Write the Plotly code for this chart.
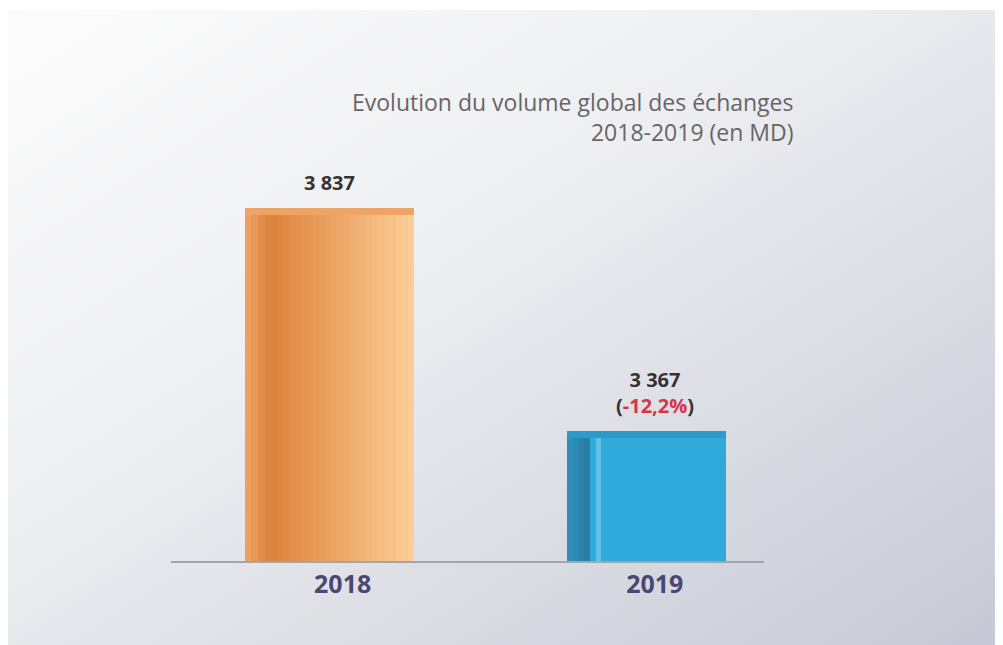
import base64
import plotly.graph_objects as go

# ---- data ----
years = ["2018", "2019"]
values = [3837, 3367]
value_labels = ["3 837", "3 367"]
change_labels = ["", "-12,2%"]
title_lines = ["Evolution du volume global des échanges", "2018-2019 (en MD)"]

# ---- style (page is offset by the 8px body margin) ----
OFF = 8
W, H = 1003 - OFF, 645 - OFF
L, R, B, T = 171 - OFF, 239, 84, 60 - OFF
Y0 = 3107.6                 # truncated axis start (as in reference)
PX_PER_UNIT = 0.4744
Y1 = Y0 + (H - T - B) / PX_PER_UNIT
pw, ph = W - L - R, H - T - B

FRONT_W = [0.455, 0.436]
FRONT_OFF = [-0.2276, -0.208]
SIDE_W = [0.0865, 0.074]
SIDE_OFF = [-0.314, -0.282]
N = 24


def lerp(c1, c2, t):
    a = [int(c1[i:i + 2], 16) for i in (1, 3, 5)]
    b = [int(c2[i:i + 2], 16) for i in (1, 3, 5)]
    return "#%02x%02x%02x" % tuple(round(a[k] + (b[k] - a[k]) * t) for k in range(3))


def orange_front(t):
    return lerp("#df843d", "#fbcd97", t)


def blue_front(i):
    if i == 1:
        return "#62c1e6"
    return "#30aadb"


fig = go.Figure()

# side faces
for j in range(4):
    t = j / 3
    fig.add_trace(go.Bar(
        x=years, y=values,
        width=[w / 4 * 1.15 for w in SIDE_W],
        offset=[o + j * w / 4 for o, w in zip(SIDE_OFF, SIDE_W)],
        marker=dict(color=[lerp("#eca062", "#dd8440", t), lerp("#2f8fb8", "#2a7fa3", t)],
                    line=dict(width=0)),
        hoverinfo="skip", showlegend=False,
    ))

# front faces (gradient slices)
for i in range(N):
    t = i / (N - 1)
    fig.add_trace(go.Bar(
        x=years, y=values,
        width=[w / N * (1.2 if i < N - 1 else 1.0) for w in FRONT_W],
        offset=[o + i * w / N for o, w in zip(FRONT_OFF, FRONT_W)],
        marker=dict(color=[orange_front(t), blue_front(i)], line=dict(width=0)),
        hoverinfo="skip", showlegend=False,
    ))

# top faces
fig.add_trace(go.Bar(
    x=years, y=[14, 14], base=values,
    width=[fw + sw for fw, sw in zip(FRONT_W, SIDE_W)], offset=SIDE_OFF,
    marker=dict(color=["#eea465", "#2b9bcb"], line=dict(width=0)),
    hoverinfo="skip", showlegend=False,
))

# value labels
for i, (v, vl, ch) in enumerate(zip(values, value_labels, change_labels)):
    txt = f"<b>{vl}</b>"
    if ch:
        txt += f"<br><b>(<span style='color:#d6354b'>{ch}</span>)</b>"
    fig.add_annotation(x=i, y=v, text=txt, showarrow=False, yanchor="bottom",
                       yshift=17, xshift=-13 if not ch else 0,
                       font=dict(family="Open Sans", size=20, color="#333333"))

# title
fig.add_annotation(xref="paper", yref="paper", x=(795 - 171) / pw,
                   y=(645 - B - 84) / ph, xanchor="right", yanchor="top",
                   align="right", showarrow=False, text="<br>".join(title_lines),
                   font=dict(family="Open Sans", size=23, color="#666666"))

# background gradient
svg = ('<svg xmlns="http://www.w3.org/2000/svg" width="1000" height="640" preserveAspectRatio="none">'
       '<defs><linearGradient id="g" x1="0" y1="0" x2="1" y2="1">'
       '<stop offset="0" stop-color="#fcfcfc"/><stop offset="0.4" stop-color="#eeeff2"/>'
       '<stop offset="1" stop-color="#c6c9d5"/></linearGradient></defs>'
       '<rect width="1000" height="640" fill="url(#g)"/></svg>')
uri = "data:image/svg+xml;base64," + base64.b64encode(svg.encode()).decode()
fig.add_layout_image(source=uri, xref="paper", yref="paper",
                     x=-L / pw, y=(H - B - 2) / ph,
                     sizex=W / pw, sizey=(H - 2) / ph,
                     xanchor="left", yanchor="top", sizing="stretch", layer="below")

fig.update_layout(
    width=W, height=H, margin=dict(l=L, r=R, t=T, b=B),
    paper_bgcolor="white", plot_bgcolor="rgba(0,0,0,0)",
    barmode="overlay", bargap=0,
    xaxis=dict(type="category", range=[-0.55, 1.35], showgrid=False, zeroline=False,
               showline=True, linecolor="#a3a5ab", linewidth=2, ticks="",
               tickfont=dict(family="Open Sans", size=25, color="#4a4775", weight="bold")),
    yaxis=dict(range=[Y0, Y1], visible=False, showgrid=False),
)

fig.write_html("out.html")
